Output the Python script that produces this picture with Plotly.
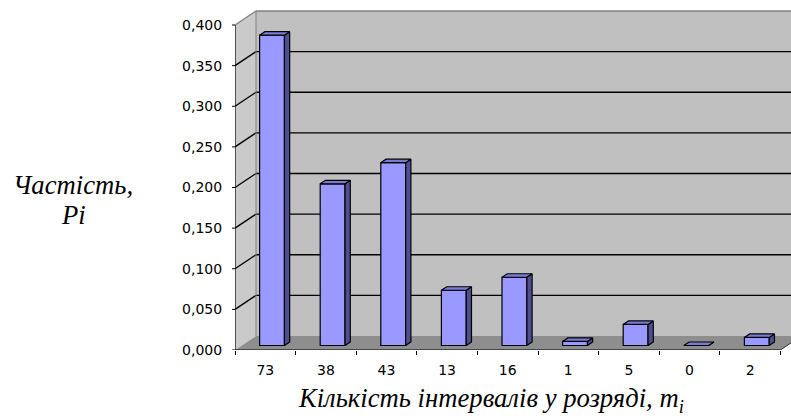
import plotly.graph_objects as go

# Number of intervals per bin (category labels) and their relative frequency
categories = ["73", "38", "43", "13", "16", "1", "5", "0", "2"]
frequency = [0.382, 0.199, 0.225, 0.068, 0.084, 0.005, 0.026, 0.000, 0.010]

y_tick_values = [0.0, 0.05, 0.10, 0.15, 0.20, 0.25, 0.30, 0.35, 0.40]
y_tick_labels = ["0,000", "0,050", "0,100", "0,150", "0,200",
                 "0,250", "0,300", "0,350", "0,400"]

x_title = "Кількість інтервалів у розряді, m<sub>i</sub>"
y_title_lines = ["Частість,", "Pi"]

# ---- figure geometry (pixels) ----
W_FIG, H_FIG = 791, 419
M_LEFT, M_BOTTOM = 235, 69
PX_PER_CAT = 60.6          # horizontal pixels per category
PX_PER_UNIT = 812.5        # vertical pixels per unit of frequency
DEPTH_PX_X, DEPTH_PX_Y = 21, 14   # oblique depth offset of the 3-D box

plot_w = W_FIG - M_LEFT
plot_h = H_FIG - M_BOTTOM
x_lo = -0.5
x_hi = x_lo + plot_w / PX_PER_CAT
y_hi = plot_h / PX_PER_UNIT

DX = DEPTH_PX_X / PX_PER_CAT
DY = DEPTH_PX_Y / PX_PER_UNIT
X0, X1 = -0.5, len(categories) - 0.5
Y_TOP = y_tick_values[-1]

BAR_W = 0.41
F0, F1 = 0.32, 0.57        # depth band occupied by the columns

WALL = "#C0C0C0"
SIDE_WALL = "#CACACA"
FLOOR = "#8E8E8E"
EDGE = "#808080"
FRONT = "#9999FF"
TOP = "#7B7BD6"
SIDE = "#4F4F8F"
GRID_W = 1.4

shapes = []


def poly(pts, fill, line_color=None, width=0):
    path = "M " + " L ".join(f"{x},{y}" for x, y in pts) + " Z"
    shapes.append(dict(type="path", path=path, xref="x", yref="y",
                       fillcolor=fill, layer="below",
                       line=dict(color=line_color or fill, width=width)))


def seg(x0, y0, x1, y1, color="black", width=1):
    shapes.append(dict(type="line", x0=x0, y0=y0, x1=x1, y1=y1,
                       xref="x", yref="y", layer="below",
                       line=dict(color=color, width=width)))


# back wall
poly([(X0 + DX, DY), (x_hi + 1, DY), (x_hi + 1, Y_TOP + DY), (X0 + DX, Y_TOP + DY)], WALL)
# left wall
poly([(X0, 0), (X0, Y_TOP), (X0 + DX, Y_TOP + DY), (X0 + DX, DY)], SIDE_WALL)
# floor
poly([(X0, 0), (X1, 0), (X1 + DX, DY), (X0 + DX, DY)], FLOOR)

# gridlines on back and left walls
for v in y_tick_values[1:-1]:
    seg(X0 + DX, v + DY, x_hi + 1, v + DY, width=GRID_W)
for v in y_tick_values[1:]:
    seg(X0, v, X0 + DX, v + DY, color="black" if v < Y_TOP else EDGE, width=GRID_W)

# wall edges
seg(X0 + DX, Y_TOP + DY, x_hi + 1, Y_TOP + DY, color=EDGE, width=1.5)
seg(X0 + DX, DY, X0 + DX, Y_TOP + DY, color=EDGE)

# axes lines: value axis and front floor edge
seg(X0, 0, X0, Y_TOP, width=1.2)
seg(X0, 0, X1, 0, width=1.2)
seg(X1, 0, X1 + DX, DY, color="#303030")

# short visible tick marks on the value axis (the axis' own ticks are
# kept transparent and only push the labels away from the axis)
for v in y_tick_values:
    shapes.append(dict(type="line", xref="paper", yref="y",
                       x0=-3 / plot_w, x1=0, y0=v, y1=v,
                       line=dict(color="black", width=1)))

fig = go.Figure()

xs = list(range(len(categories)))

# front faces of the columns
fig.add_trace(go.Bar(
    x=[i + F0 * DX for i in xs],
    y=frequency,
    base=F0 * DY,
    width=BAR_W,
    marker=dict(color=FRONT, line=dict(color="black", width=1.2)),
    hoverinfo="skip",
    showlegend=False,
))

# top and side faces
top_x, top_y, side_x, side_y = [], [], [], []
for i, v in zip(xs, frequency):
    xl, xr = i - BAR_W / 2, i + BAR_W / 2
    top_x += [xl + F0 * DX, xr + F0 * DX, xr + F1 * DX, xl + F1 * DX, xl + F0 * DX, None]
    top_y += [v + F0 * DY, v + F0 * DY, v + F1 * DY, v + F1 * DY, v + F0 * DY, None]
    side_x += [xr + F0 * DX, xr + F0 * DX, xr + F1 * DX, xr + F1 * DX, xr + F0 * DX, None]
    side_y += [F0 * DY, v + F0 * DY, v + F1 * DY, F1 * DY, F0 * DY, None]

fig.add_trace(go.Scatter(x=side_x, y=side_y, mode="lines", fill="toself",
                         fillcolor=SIDE, line=dict(color="black", width=1.2),
                         hoverinfo="skip", showlegend=False))
fig.add_trace(go.Scatter(x=top_x, y=top_y, mode="lines", fill="toself",
                         fillcolor=TOP, line=dict(color="black", width=1.2),
                         hoverinfo="skip", showlegend=False))

tick_font = dict(family="DejaVu Sans", size=14, color="black")
title_font = dict(family="Liberation Serif", size=26.67, color="black", style="italic")


def px_to_paper_x(px):
    return (px - M_LEFT) / plot_w


def px_to_paper_y(px):
    return (plot_h - px) / plot_h


annotations = [
    dict(text=x_title, xref="paper", yref="paper",
         x=px_to_paper_x(490.5), y=px_to_paper_y(400),
         xanchor="center", yanchor="middle", showarrow=False, font=title_font),
]
# value-axis title, one annotation per line
for line_text, centre_px in zip(y_title_lines, [185.3, 215.3]):
    annotations.append(dict(
        text=line_text, xref="paper", yref="paper",
        x=px_to_paper_x(73.5), y=px_to_paper_y(centre_px),
        xanchor="center", yanchor="middle", showarrow=False, font=title_font))

fig.update_layout(
    width=W_FIG, height=H_FIG,
    margin=dict(l=M_LEFT, r=0, t=0, b=M_BOTTOM, pad=0),
    paper_bgcolor="white", plot_bgcolor="white",
    showlegend=False,
    shapes=shapes,
    xaxis=dict(
        range=[x_lo, x_hi], showgrid=False, zeroline=False, showline=False,
        tickmode="array", tickvals=xs, ticktext=categories,
        ticks="", tickfont=tick_font, ticklabelstandoff=10,
        minor=dict(tickmode="linear", tick0=-0.5, dtick=1, ticks="outside",
                   ticklen=4, tickcolor="black", showgrid=False),
        fixedrange=True,
    ),
    yaxis=dict(
        range=[0, y_hi], showgrid=False, zeroline=False, showline=False,
        tickmode="array", tickvals=y_tick_values, ticktext=y_tick_labels,
        ticks="outside", ticklen=9, tickcolor="rgba(0,0,0,0)", tickfont=tick_font,
        fixedrange=True,
    ),
    annotations=annotations,
)

fig.write_html("out.html")
